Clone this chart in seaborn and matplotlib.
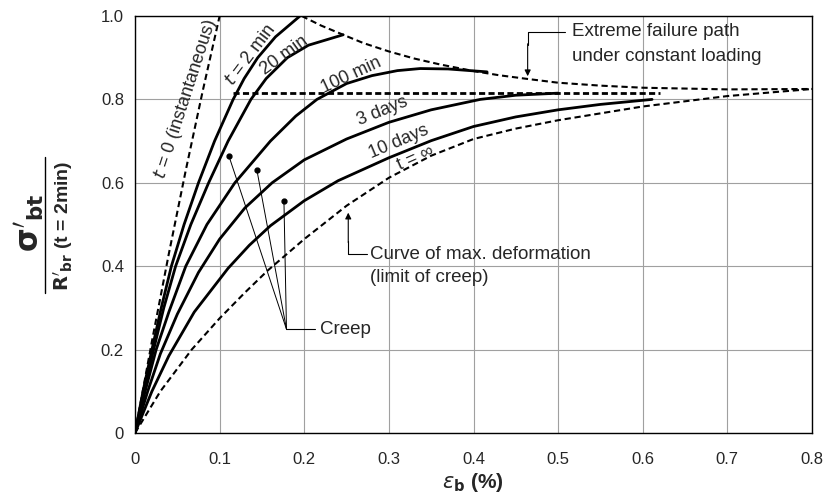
import numpy as np
import pandas as pd
import matplotlib
matplotlib.use('Agg')
import matplotlib.pyplot as plt
import seaborn as sns
from matplotlib.lines import Line2D

# ---------------- data (strain %, stress ratio) ----------------
t0_x = [0, 0.02, 0.04, 0.06, 0.08, 0.10]
t0_y = [0, 0.22, 0.43, 0.63, 0.82, 1.00]

min2_x = [0, 0.0095, 0.02, 0.031, 0.043, 0.058, 0.075, 0.094, 0.116, 0.129, 0.145, 0.166, 0.195]
min2_y = [0, 0.10, 0.20, 0.30, 0.40, 0.50, 0.60, 0.70, 0.80, 0.85, 0.90, 0.95, 1.00]

min20_x = [0, 0.0105, 0.022, 0.034, 0.048, 0.066, 0.087, 0.11, 0.137, 0.155, 0.18, 0.205, 0.246]
min20_y = [0, 0.10, 0.20, 0.30, 0.40, 0.50, 0.60, 0.70, 0.80, 0.85, 0.90, 0.93, 0.955]

min100_x = [0, 0.012, 0.025, 0.04, 0.06, 0.085, 0.118, 0.16, 0.19, 0.215, 0.25, 0.28, 0.31, 0.337, 0.37, 0.416]
min100_y = [0, 0.10, 0.20, 0.29, 0.40, 0.50, 0.60, 0.70, 0.76, 0.80, 0.838, 0.857, 0.869, 0.874, 0.873, 0.866]

day3_x = [0, 0.015, 0.03, 0.05, 0.075, 0.10, 0.13, 0.162, 0.20, 0.25, 0.30, 0.35, 0.408, 0.45, 0.50]
day3_y = [0, 0.10, 0.19, 0.285, 0.385, 0.465, 0.54, 0.60, 0.655, 0.705, 0.745, 0.775, 0.80, 0.81, 0.815]

day10_x = [0, 0.02, 0.04, 0.07, 0.11, 0.135, 0.16, 0.20, 0.24, 0.30, 0.35, 0.40, 0.45, 0.50, 0.55, 0.611]
day10_y = [0, 0.10, 0.185, 0.29, 0.395, 0.45, 0.497, 0.557, 0.605, 0.66, 0.701, 0.735, 0.758, 0.775, 0.788, 0.80]

inf_x = [0, 0.03, 0.067, 0.10, 0.13, 0.157, 0.20, 0.25, 0.30, 0.35, 0.40, 0.45, 0.50, 0.60, 0.70, 0.80]
inf_y = [0, 0.10, 0.20, 0.275, 0.337, 0.39, 0.465, 0.545, 0.612, 0.665, 0.705, 0.73, 0.75, 0.783, 0.808, 0.825]

fail_x = [0.197, 0.22, 0.246, 0.27, 0.30, 0.33, 0.36, 0.40, 0.43, 0.464, 0.50, 0.55, 0.60, 0.70, 0.80]
fail_y = [1.00, 0.977, 0.955, 0.935, 0.915, 0.898, 0.884, 0.868, 0.858, 0.849, 0.84, 0.833, 0.828, 0.824, 0.825]

flat_x = [0.116, 0.62]
flat_y = [0.815, 0.815]

creep_dots_x = [0.111, 0.144, 0.176]
creep_dots_y = [0.664, 0.631, 0.556]

x_ticks = [0, 0.1, 0.2, 0.3, 0.4, 0.5, 0.6, 0.7, 0.8]
x_ticklabels = ['0', '0.1', '0.2', '0.3', '0.4', '0.5', '0.6', '0.7', '0.8']
y_ticks = [0, 0.2, 0.4, 0.6, 0.8, 1.0]
y_ticklabels = ['0', '0.2', '0.4', '0.6', '0.8', '1.0']

# ---------------- style ----------------
sns.set_style('white')
plt.rcParams['font.family'] = ['Liberation Sans', 'DejaVu Sans']
plt.rcParams['mathtext.fontset'] = 'dejavusans'

fig = plt.figure(figsize=(8.3, 4.97), dpi=100)
ax = fig.add_axes([135/830, 1 - 433/497, (812 - 135)/830, (433 - 16)/497])

def curve(xs, ys, lw=2.0, dash=None):
    d = pd.DataFrame({'x': xs, 'y': ys, 'k': 'a'})
    if dash is None:
        sns.lineplot(data=d, x='x', y='y', color='black', lw=lw, estimator=None,
                     sort=False, ax=ax, legend=False)
    else:
        sns.lineplot(data=d, x='x', y='y', style='k', dashes=[dash], color='black', lw=lw,
                     estimator=None, sort=False, ax=ax, legend=False)

# creep curves
curve(min2_x, min2_y)
curve(min20_x, min20_y)
curve(min100_x, min100_y)
curve(day3_x, day3_y)
curve(day10_x, day10_y)

# dashed limits
curve(t0_x, t0_y, lw=1.5, dash=(3, 1.8))
curve(inf_x, inf_y, lw=1.5, dash=(3, 1.8))
curve(fail_x, fail_y, lw=1.5, dash=(3, 1.8))
curve(flat_x, flat_y, lw=2.0, dash=(2.2, 1.2))

# creep pointers
jx, jy = 0.179, 0.249
for cx, cy in zip(creep_dots_x, creep_dots_y):
    ax.plot([cx, jx], [cy, jy], color='black', lw=0.7)
ax.plot(creep_dots_x, creep_dots_y, 'o', color='black', ms=3.5)
ax.plot([jx, 0.213], [jy, jy], color='black', lw=0.8)

fs = 13.5
ax.text(0.219, jy, 'Creep', fontsize=fs, va='center', ha='left')

# max deformation pointer
ax.plot([0.252, 0.252, 0.274], [0.46, 0.429, 0.429], color='black', lw=0.8)
ax.annotate('', xy=(0.252, 0.535), xytext=(0.252, 0.45),
            arrowprops=dict(arrowstyle='-|>', color='black', lw=0.8, mutation_scale=9))
ax.text(0.278, 0.429, 'Curve of max. deformation', fontsize=fs, va='center', ha='left')
ax.text(0.278, 0.372, '(limit of creep)', fontsize=fs, va='center', ha='left')

# failure path pointer
ax.plot([0.464, 0.464, 0.508], [0.93, 0.962, 0.962], color='black', lw=0.8)
ax.annotate('', xy=(0.464, 0.849), xytext=(0.464, 0.94),
            arrowprops=dict(arrowstyle='-|>', color='black', lw=0.8, mutation_scale=9))
ax.text(0.516, 0.962, 'Extreme failure path', fontsize=fs, va='center', ha='left')
ax.text(0.516, 0.902, 'under constant loading', fontsize=fs, va='center', ha='left')

# curve labels
lab = dict(fontsize=13, ha='center', va='center', rotation_mode='anchor')
ax.text(0.060, 0.80, r'$t$ = 0 (instantaneous)', rotation=72, **lab)
ax.text(0.137, 0.905, r'$t$ = 2 min', rotation=53, **lab)
ax.text(0.177, 0.905, '20 min', rotation=36, **lab)
ax.text(0.255, 0.857, '100 min', rotation=25, **lab)
ax.text(0.292, 0.772, '3 days', rotation=22, **lab)
ax.text(0.312, 0.698, '10 days', rotation=23, **lab)
ax.text(0.332, 0.660, 't = ∞', rotation=24, **lab)

# axes
ax.set_xlim(0, 0.8)
ax.set_ylim(0, 1.0)
ax.set_xticks(x_ticks)
ax.set_xticklabels(x_ticklabels)
ax.set_yticks(y_ticks)
ax.set_yticklabels(y_ticklabels)
ax.tick_params(axis='x', length=0, pad=14, labelsize=12)
ax.tick_params(axis='y', length=0, pad=8, labelsize=12)
ax.grid(True, color='#a0a0a0', lw=0.8)
ax.set_axisbelow(True)
for s in ax.spines.values():
    s.set_color('black')
    s.set_linewidth(1.0)
ax.set_xlabel('')
ax.set_ylabel('')

# x label
fig.text(473/830, 1 - 483/497, r'$\varepsilon_{\mathbf{b}}$ (%)', fontsize=15,
         fontweight='bold', ha='center', va='center')

# y label as a fraction
fig.text(30/830, 1 - 223/497, r"$\mathbf{\sigma'_{bt}}$", fontsize=22, rotation=90,
         ha='center', va='center')
fig.text(63/830, 1 - 226/497, r"$\mathbf{R'_{br}}$ (t = 2min)", fontsize=14,
         fontweight='bold', rotation=90, ha='center', va='center')
fig.add_artist(Line2D([45/830, 45/830], [1 - 157/497, 1 - 293/497], color='black', lw=1.0))

fig.savefig('out.png', dpi=100)
